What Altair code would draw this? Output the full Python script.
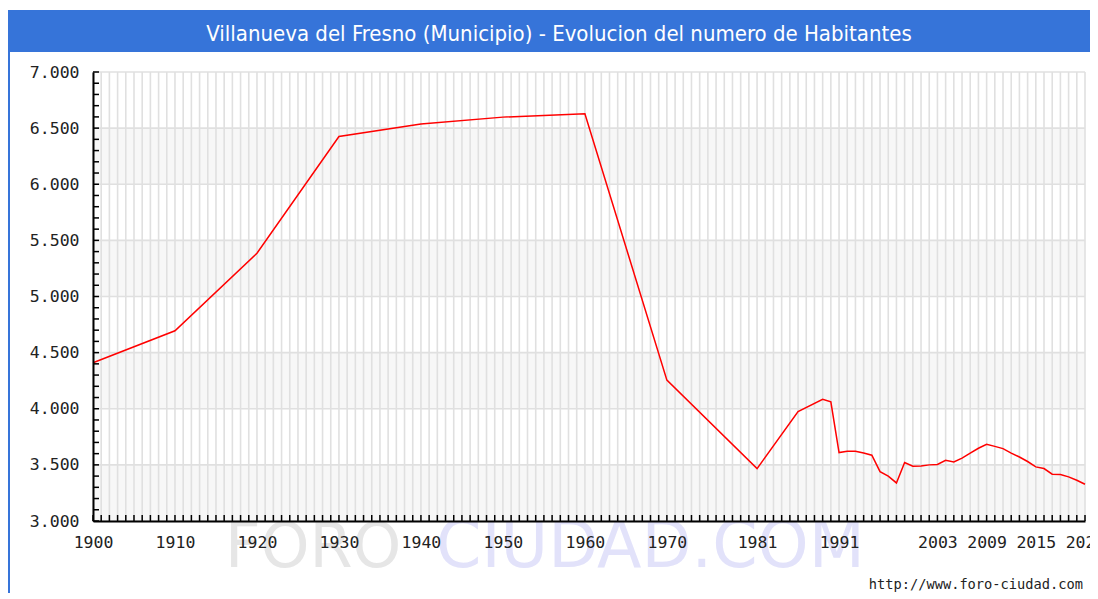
import altair as alt
import pandas as pd

# ---- data ----
years = [1900, 1910, 1920, 1930, 1940, 1950, 1960, 1970, 1981, 1986, 1989, 1990,
         1991, 1992, 1993, 1994, 1995, 1996, 1997, 1998, 1999, 2000, 2001, 2002,
         2003, 2004, 2005, 2006, 2007, 2008, 2009, 2010, 2011, 2012, 2013, 2014,
         2015, 2016, 2017, 2018, 2019, 2020, 2021]
habitantes = [4410, 4695, 5385, 6425, 6536, 6598, 6628, 4255, 3467, 3975, 4085, 4062,
              3610, 3622, 3622, 3605, 3586, 3440, 3400, 3339, 3521, 3488, 3490, 3500,
              3503, 3541, 3526, 3560, 3605, 3648, 3683, 3665, 3645, 3605, 3570, 3530,
              3482, 3467, 3417, 3414, 3393, 3363, 3327]
x_labels = [1900, 1910, 1920, 1930, 1940, 1950, 1960, 1970, 1981, 1991, 2003, 2009, 2015, 2021]
y_labels = [3000, 3500, 4000, 4500, 5000, 5500, 6000, 6500, 7000]
band_lo = [3000, 4000, 5000, 6000]
band_hi = [3500, 4500, 5500, 6500]
all_years = list(range(1900, 2022))
y_minor = list(range(3000, 7001, 100))
title = "Villanueva del Fresno (Municipio) - Evolucion del numero de Habitantes"
url = "http://www.foro-ciudad.com"

W, H = 992, 449
PAD_L, PAD_T, PAD_R, PAD_B = 85, 64, 5, 72
BLUE = "#3674d9"
MONO = "DejaVu Sans Mono"

xs = alt.Scale(domain=[1900, 2021], nice=False, zero=False)
ys = alt.Scale(domain=[3000, 7000], nice=False, zero=False)

xaxis = alt.Axis(values=x_labels, format="d", grid=False, ticks=False,
                 domainColor="#000000", domainWidth=2, labelFlush=False,
                 labelOverlap=False, labelFont=MONO, labelFontSize=16.5,
                 labelColor="#222222", labelPadding=13, title=None, zindex=1)
yaxis = alt.Axis(values=y_labels, labelExpr="replace(format(datum.value, ','), ',', '.')",
                 grid=False, ticks=False, domainColor="#000000", domainWidth=2,
                 labelFlush=False, labelOverlap=False, labelFont=MONO, labelFontSize=16.5,
                 labelColor="#222222", labelPadding=14, title=None, zindex=1)

df = pd.DataFrame({"year": years, "hab": habitantes})
bands = pd.DataFrame({"lo": band_lo, "hi": band_hi})
yrs = pd.DataFrame({"yr": all_years})
ygrid = pd.DataFrame({"v": y_labels})
yminor = pd.DataFrame({"v": y_minor})
one = pd.DataFrame({"t": [title]})
urldf = pd.DataFrame({"t": [url]})
wm1 = pd.DataFrame({"t": ["FORO"]})
wm2 = pd.DataFrame({"t": ["CIUDAD.COM"]})

band_layer = alt.Chart(bands).mark_rect(color="#f7f7f7").encode(
    x=alt.value(0), x2=alt.value(W),
    y=alt.Y("lo:Q", scale=ys, axis=yaxis), y2="hi:Q")

vgrid = alt.Chart(yrs).mark_rule(color="#e0e0e0", strokeWidth=1.6).encode(
    x=alt.X("yr:Q", scale=xs, axis=xaxis), y=alt.value(0), y2=alt.value(H))

hgrid = alt.Chart(ygrid).mark_rule(color="#e0e0e0", strokeWidth=1.6).encode(
    y=alt.Y("v:Q", scale=ys, axis=yaxis), x=alt.value(0), x2=alt.value(W))

line = alt.Chart(df).mark_line(color="#ff0000", strokeWidth=1.5).encode(
    x=alt.X("year:Q", scale=xs, axis=xaxis),
    y=alt.Y("hab:Q", scale=ys, axis=yaxis))

xticks = alt.Chart(yrs).mark_rule(color="#000000", strokeWidth=1.5).encode(
    x=alt.X("yr:Q", scale=xs, axis=xaxis), y=alt.value(H), y2=alt.value(H - 6))

yticks = alt.Chart(yminor).mark_rule(color="#000000", strokeWidth=1.5).encode(
    y=alt.Y("v:Q", scale=ys, axis=yaxis), x=alt.value(0), x2=alt.value(6))

title_bar = alt.Chart(one).mark_rect(color=BLUE).encode(
    x=alt.value(-PAD_L), x2=alt.value(W + PAD_R), y=alt.value(-62), y2=alt.value(-20))

title_txt = alt.Chart(one).mark_text(
    color="#ffffff", font="DejaVu Sans Condensed, Liberation Sans Narrow, DejaVu Sans",
    fontSize=22, align="center", baseline="middle").encode(
    x=alt.value(466), y=alt.value(-38), text="t:N")

left_border = alt.Chart(one).mark_rule(color=BLUE, strokeWidth=2).encode(
    x=alt.value(-PAD_L + 1), y=alt.value(-20), y2=alt.value(H + PAD_B))

wm_foro = alt.Chart(wm1).mark_text(
    color="#e6e6e6", font="DejaVu Sans", fontSize=62, align="left",
    baseline="alphabetic").encode(x=alt.value(132), y=alt.value(495), text="t:N")

wm_ciudad = alt.Chart(wm2).mark_text(
    color="#e2e2fa", font="DejaVu Sans", fontSize=65, align="left",
    baseline="alphabetic").encode(x=alt.value(343), y=alt.value(495), text="t:N")

url_txt = alt.Chart(urldf).mark_text(
    color="#222222", font=MONO, fontSize=13.7, align="right",
    baseline="middle").encode(x=alt.value(990), y=alt.value(H + PAD_B - 8), text="t:N")

chart = alt.layer(
    wm_foro, wm_ciudad, band_layer, vgrid, hgrid, line, xticks, yticks,
    title_bar, title_txt, left_border, url_txt
).properties(
    width=W, height=H,
    autosize=alt.AutoSizeParams(type="none"),
    padding={"left": PAD_L, "top": PAD_T, "right": PAD_R, "bottom": PAD_B},
).configure_view(stroke=None)

chart.save("out.html", embed_options={"renderer": "svg", "actions": False})
